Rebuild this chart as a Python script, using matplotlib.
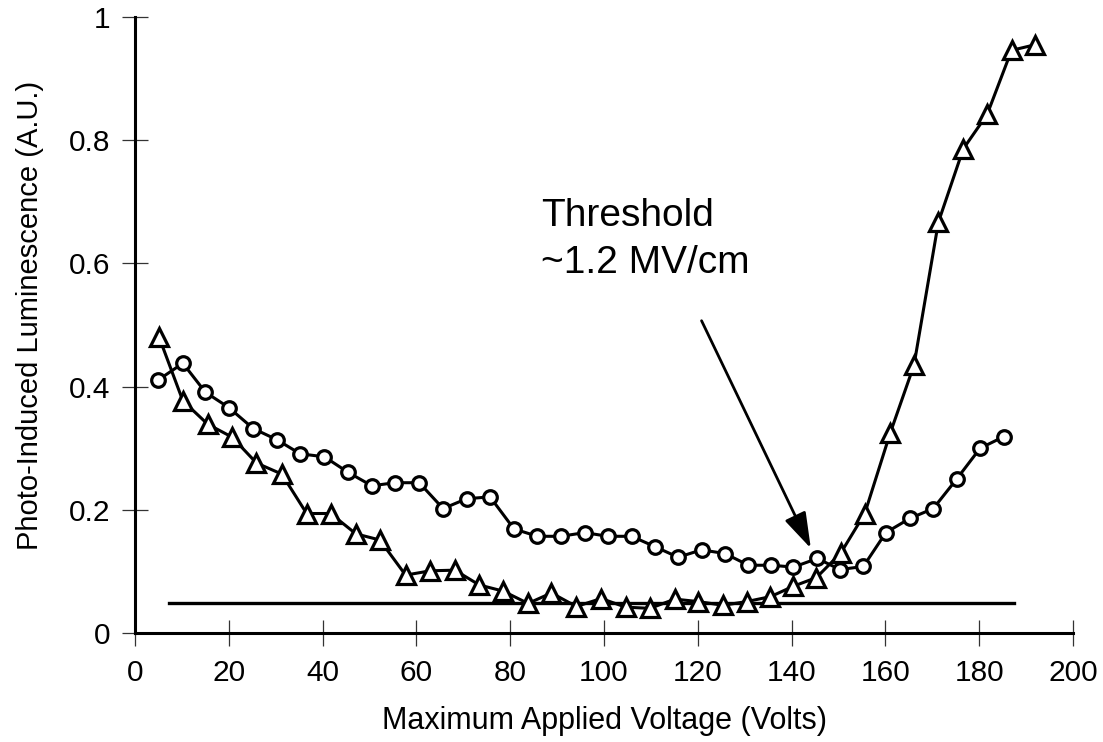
import matplotlib
matplotlib.use("Agg")
import matplotlib.pyplot as plt

plt.rcParams['font.family'] = ['Liberation Sans', 'DejaVu Sans']

# Data
circle_x = [5.0, 10.2, 15.0, 20.0, 25.2, 30.2, 35.2, 40.4, 45.4, 50.5,
            55.4, 60.6, 65.7, 70.7, 75.7, 80.8, 85.8, 90.8, 95.9, 100.8,
            105.9, 110.9, 115.8, 120.8, 125.8, 130.8, 135.7, 140.4, 145.5, 150.3,
            155.3, 160.1, 165.2, 170.2, 175.2, 180.2, 185.3]
circle_y = [0.411, 0.438, 0.391, 0.366, 0.332, 0.314, 0.291, 0.286, 0.261, 0.239,
            0.244, 0.244, 0.202, 0.218, 0.221, 0.169, 0.157, 0.157, 0.163, 0.157,
            0.157, 0.140, 0.123, 0.135, 0.129, 0.110, 0.110, 0.107, 0.121, 0.103,
            0.108, 0.163, 0.186, 0.202, 0.250, 0.300, 0.319]

tri_x = [5.1, 10.2, 15.5, 20.7, 25.9, 31.3, 36.6, 41.7, 47.1, 52.2,
         57.7, 63.0, 68.2, 73.4, 78.5, 83.8, 88.8, 94.1, 99.4, 104.6,
         109.8, 115.1, 120.1, 125.4, 130.4, 135.5, 140.4, 145.3, 150.5, 155.6,
         161.0, 166.1, 171.3, 176.6, 181.7, 186.9, 191.9]
tri_y = [0.481, 0.377, 0.339, 0.318, 0.276, 0.258, 0.194, 0.194, 0.161, 0.151,
         0.094, 0.101, 0.102, 0.078, 0.068, 0.048, 0.065, 0.043, 0.056, 0.042,
         0.040, 0.055, 0.051, 0.045, 0.051, 0.059, 0.076, 0.090, 0.130, 0.194,
         0.324, 0.435, 0.667, 0.786, 0.842, 0.946, 0.955]

baseline_x = [7.3, 187.4]
baseline_y = [0.049, 0.049]

x_ticks = [0, 20, 40, 60, 80, 100, 120, 140, 160, 180, 200]
y_ticks = [0, 0.2, 0.4, 0.6, 0.8, 1]
y_ticklabels = ['0', '0.2', '0.4', '0.6', '0.8', '1']

fig = plt.figure(figsize=(11.03, 7.42), dpi=100)
ax = fig.add_axes([0.1224, 0.1469, 0.8504, 0.8301])

ax.plot(baseline_x, baseline_y, color='black', lw=2.4, zorder=2)
ax.plot(circle_x, circle_y, color='black', lw=2.2, marker='o', markersize=9.8,
        markerfacecolor='white', markeredgecolor='black', markeredgewidth=2.3, zorder=3)
ax.plot(tri_x, tri_y, color='black', lw=2.2, marker='^', markersize=13,
        markerfacecolor='white', markeredgecolor='black', markeredgewidth=2.3, zorder=4)

ax.set_xlim(0, 200)
ax.set_ylim(0, 1)
ax.set_xticks(x_ticks)
ax.set_xticklabels([str(v) for v in x_ticks])
ax.set_yticks(y_ticks)
ax.set_yticklabels(y_ticklabels)

for s in ['top', 'right']:
    ax.spines[s].set_visible(False)
for s in ['left', 'bottom']:
    ax.spines[s].set_linewidth(2.2)
    ax.spines[s].set_color('black')

ax.tick_params(axis='both', direction='inout', length=19, width=0.9,
               color='#333333', labelsize=21.5)
ax.tick_params(axis='x', pad=9)
ax.tick_params(axis='y', pad=8)

ax.set_xlabel('Maximum Applied Voltage (Volts)', fontsize=22, labelpad=14)
ax.set_ylabel('Photo-Induced Luminescence (A.U.)', fontsize=21, labelpad=18)
ax.yaxis.label.set_y(0.516)

ax.text(86.5, 0.660, 'Threshold', fontsize=28, ha='left', va='baseline')
ax.text(86.5, 0.585, '~1.2 MV/cm', fontsize=28, ha='left', va='baseline')

ax.annotate('', xy=(144.1, 0.1375), xytext=(120.8, 0.507),
            arrowprops=dict(arrowstyle='-|>,head_length=2.2,head_width=0.7',
                            color='black', lw=2.0, shrinkA=0, shrinkB=0))

fig.savefig('out.png', dpi=100)
